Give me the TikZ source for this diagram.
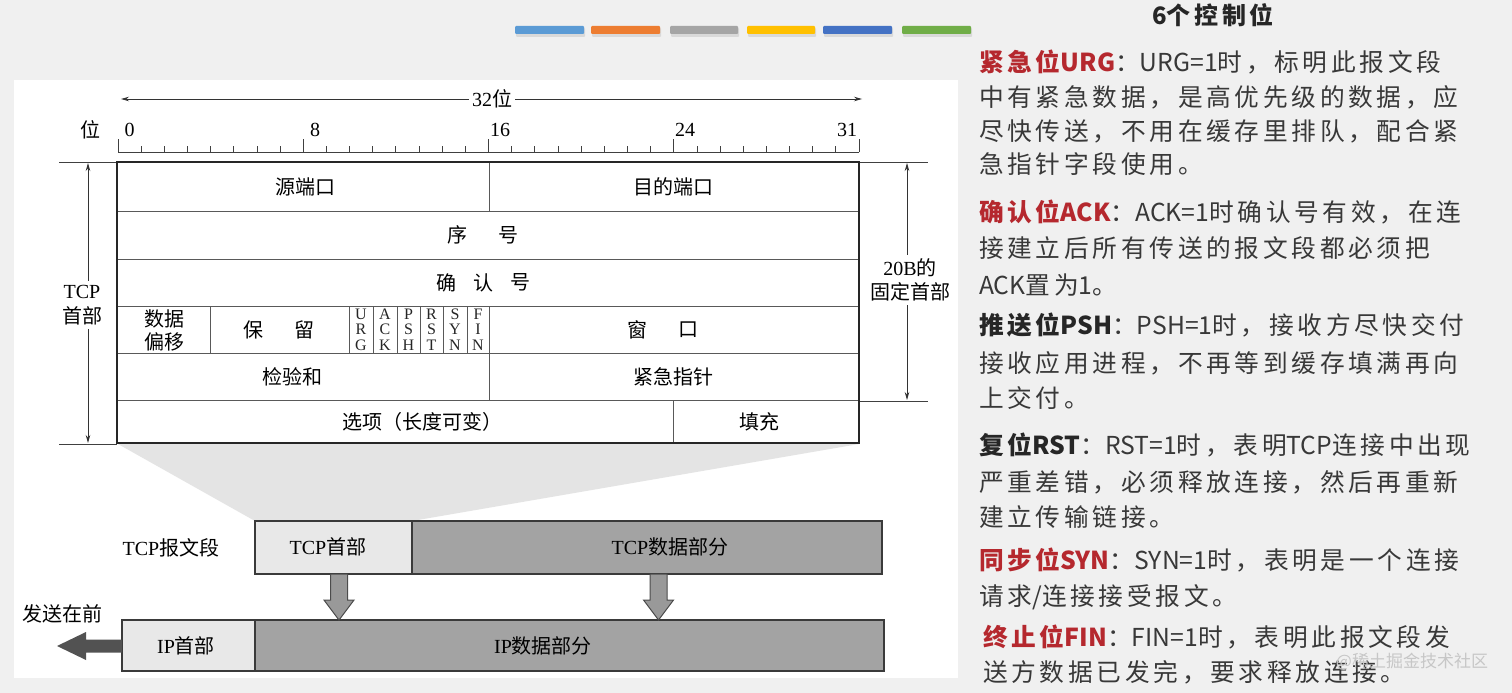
\documentclass[tikz,border=0pt]{standalone}
\usepackage{fontspec}
\setmainfont{Liberation Serif}
\newfontfamily\cjk{Noto Sans CJK SC}
\newfontfamily\rtxt[LetterSpace=15]{Noto Sans CJK SC}
\newfontfamily\rlat{Noto Sans CJK SC}
\newcommand\latw[1]{{\rlat #1}}
\usetikzlibrary{arrows.meta}
\definecolor{bg}{HTML}{F0F0F0}
\definecolor{funnel}{HTML}{E4E4E4}
\definecolor{hdr}{HTML}{E8E8E8}
\definecolor{dat}{HTML}{A3A3A3}
\definecolor{segline}{HTML}{3A3A3A}
\definecolor{txt}{HTML}{383838}
\definecolor{hred}{HTML}{B5282E}
\definecolor{sA}{HTML}{5B9BD5}
\definecolor{sB}{HTML}{ED7D31}
\definecolor{sC}{HTML}{A5A5A5}
\definecolor{sD}{HTML}{FFC000}
\definecolor{sE}{HTML}{4472C4}
\definecolor{sF}{HTML}{70AD47}
\begin{document}
\begin{tikzpicture}[x=1pt,y=-1pt,
  fld/.style={inner sep=0pt, font=\fontsize{20}{22}\selectfont\cjk, text=black},
  lat/.style={inner sep=0pt, font=\fontsize{20}{22}\selectfont, text=black},
  flag/.style={inner sep=0pt, align=center, font=\fontsize{16}{15.5}\selectfont, text=black!85},
  inner/.style={draw=black!65, line width=0.9pt},
  outer/.style={draw=black!85, line width=1.6pt},
  ruler/.style={draw=black!75, line width=0.8pt},
  dim/.style={draw=black!80, line width=0.8pt, {Stealth[length=8pt,width=4.5pt]}-{Stealth[length=8pt,width=4.5pt]}},
  seg/.style={draw=segline, line width=1.4pt},
  darrow/.style={draw=black!70, fill=black!40, line width=1pt},
  rt/.style={anchor=west, inner sep=0pt, font=\fontsize{24.7}{28}\selectfont\rtxt, text=txt},
  stripe/.style={rounded corners=1pt},
  downarrow/.pic={\draw[darrow] (-8.5,0) -- (-8.5,26) -- (-15,26) -- (0,46) -- (15,26) -- (8.5,26) -- (8.5,0) -- cycle;}
]
\useasboundingbox (0,0) rectangle (1512,693);
% background
\fill[bg] (0,0) rectangle (1512,693);
\fill[white] (14,80) rectangle (958,678);
% colour stripes
\foreach \xa/\xb/\c in {515/584/sA,591/660/sB,670/738/sC,747/815/sD,823/892/sE,902/971/sF}{
  \fill[black!15, stripe] (\xa+1,28) rectangle (\xb+1,37);
  \fill[\c, stripe] (\xa,26) rectangle (\xb,34);
}
% funnel
\fill[funnel] (118,444) -- (859,444) -- (412,521) -- (255,521) -- cycle;
% ruler
\draw[ruler] (118,152) -- (859,152);
\foreach \i in {0,...,32} \draw[ruler] ({118+23.156*\i},152) -- ++(0,-6);
\foreach \i in {0,8,16,24,32} \draw[ruler] ({118+23.156*\i},152) -- ++(0,-13);
\node[fld] (wei) at (90,130) {位};
\node[lat] (n0) at (129.6,130) {0};
\node[lat] (n8) at (315,130) {8};
\node[lat] (n16) at (500,130) {16};
\node[lat] (n24) at (685,130) {24};
\node[lat] (n31) at (847,130) {31};
\coordinate (wl) at (121,99);
\coordinate (wr) at (862,99);
\draw[dim] (wl) -- (wr);
\node[lat, fill=white, inner xsep=3pt] (w32) at (492,99) {32{\cjk 位}};
% dimension lines
\draw[ruler] (59,162) -- (117,162);
\draw[ruler] (59,444) -- (117,444);
\draw[ruler] (859,162) -- (928,162);
\draw[ruler] (859,401) -- (928,401);
\coordinate (lt) at (88,163);
\coordinate (lb) at (88,443);
\draw[dim] (lt) -- (lb);
\node[lat, fill=white, align=center, inner ysep=4pt, font=\fontsize{20}{25}\selectfont] (tcph) at (82,305) {TCP\\{\cjk 首部}};
\coordinate (rtop) at (907,163);
\coordinate (rbot) at (907,400);
\draw[dim] (rtop) -- (rbot);
\node[lat, fill=white, align=center, inner ysep=4pt, font=\fontsize{20}{24}\selectfont] (fix) at (910,280) {20B{\cjk 的}\\{\cjk 固定首部}};
% table inner lines
\foreach \y in {211,259,306,353,400} \draw[inner] (117,\y) -- (859,\y);
\draw[inner] (489,162) -- (489,211);
\foreach \x in {210,349,373,397,420,443,467,489} \draw[inner] (\x,306) -- (\x,353);
\draw[inner] (489,353) -- (489,400);
\draw[inner] (673,400) -- (673,443);
\draw[outer] (117,162) rectangle (859,443);
% table text
\node[fld] (src) at (305,186.5) {源端口};
\node[fld] (dst) at (673,186.5) {目的端口};
\node[fld] (seqa) at (457,235) {序};
\node[fld] (seqb) at (508,235) {号};
\node[fld] (acka) at (446,282.5) {确};
\node[fld] (ackb) at (483,282.5) {认};
\node[fld] (ackc) at (520,282.5) {号};
\node[fld, align=center, font=\fontsize{20}{23}\selectfont\cjk] (off) at (164,330) {数据\\偏移};
\node[fld] (resa) at (253,329.5) {保};
\node[fld] (resb) at (304,329.5) {留};
\node[flag] (fu) at (361,329.5) {U\\R\\G};
\node[flag] (fa) at (385,329.5) {A\\C\\K};
\node[flag] (fp) at (408.5,329.5) {P\\S\\H};
\node[flag] (fr) at (431.5,329.5) {R\\S\\T};
\node[flag] (fs) at (455,329.5) {S\\Y\\N};
\node[flag] (ff) at (478,329.5) {F\\I\\N};
\node[fld] (wina) at (637,329.5) {窗};
\node[fld] (winb) at (688,329.5) {口};
\node[fld] (chk) at (292,376.5) {检验和};
\node[fld] (urgp) at (673,376.5) {紧急指针};
\node[fld] (opt) at (422,421.5) {选项（长度可变）};
\node[fld] (pad) at (759,421.5) {填充};
% lower segments
\draw[seg, fill=hdr] (255,521) rectangle (412,574);
\draw[seg, fill=dat] (412,521) rectangle (882,574);
\draw[seg, fill=hdr] (122,620) rectangle (255,671);
\draw[seg, fill=dat] (255,620) rectangle (884,671);
\node[lat] (tseg) at (171,548) {TCP{\cjk 报文段}};
\node[lat] (thdr) at (328,547) {TCP{\cjk 首部}};
\node[lat] (tdat) at (670,547) {TCP{\cjk 数据部分}};
\node[lat] (ihdr) at (186,646) {IP{\cjk 首部}};
\node[lat] (idat) at (543,646) {IP{\cjk 数据部分}};
\pic at (339,574) {downarrow};
\pic at (658.5,574) {downarrow};
\fill[black!68] (122,639.5) -- (86,639.5) -- (86,632) -- (57,646) -- (86,660) -- (86,652.5) -- (122,652.5) -- cycle;
\node[fld] (send) at (62,614) {发送在前};
% right panel
\node[inner sep=0pt, font=\fontsize{24}{28}\selectfont\rtxt\bfseries, text=black!85] (title) at (1213,15) {\latw{6}个控制位};
\node[rt] (u1) at (979,62) {{\bfseries\color{hred}紧急位\latw{URG}}：\latw{URG=1}时，标明此报文段};
\node[rt] (u2) at (979,97) {中有紧急数据，是高优先级的数据，应};
\node[rt] (u3) at (979,131) {尽快传送，不用在缓存里排队，配合紧};
\node[rt] (u4) at (979,164) {急指针字段使用。};
\node[rt] (a1) at (979,212) {{\bfseries\color{hred}确认位\latw{ACK}}：\latw{ACK=1}时确认号有效，在连};
\node[rt] (a2) at (979,248) {接建立后所有传送的报文段都必须把};
\node[rt] (a3) at (979,285) {\latw{ACK}置为\latw{1}。};
\node[rt] (p1) at (979,325) {{\bfseries\color{black!85}推送位\latw{PSH}}：\latw{PSH=1}时，接收方尽快交付};
\node[rt] (p2) at (979,363) {接收应用进程，不再等到缓存填满再向};
\node[rt] (p3) at (979,398) {上交付。};
\node[rt] (r1) at (979,445) {{\bfseries\color{black!85}复位\latw{RST}}：\latw{RST=1}时，表明\latw{TCP}连接中出现};
\node[rt] (r2) at (979,482) {严重差错，必须释放连接，然后再重新};
\node[rt] (r3) at (979,517) {建立传输链接。};
\node[rt] (s1) at (979,560) {{\bfseries\color{hred}同步位\latw{SYN}}：\latw{SYN=1}时，表明是一个连接};
\node[rt] (s2) at (979,597) {请求\latw{/}连接接受报文。};
\node[rt] (f1) at (983,637) {{\bfseries\color{hred}终止位\latw{FIN}}：\latw{FIN=1}时，表明此报文段发};
\node[rt] (f2) at (983,672) {送方数据已发完，要求释放连接。};
\node[inner sep=0pt, font=\fontsize{17}{18}\selectfont\cjk, text=black!22] (wm) at (1412,662) {@稀土掘金技术社区};
\end{tikzpicture}
\end{document}
